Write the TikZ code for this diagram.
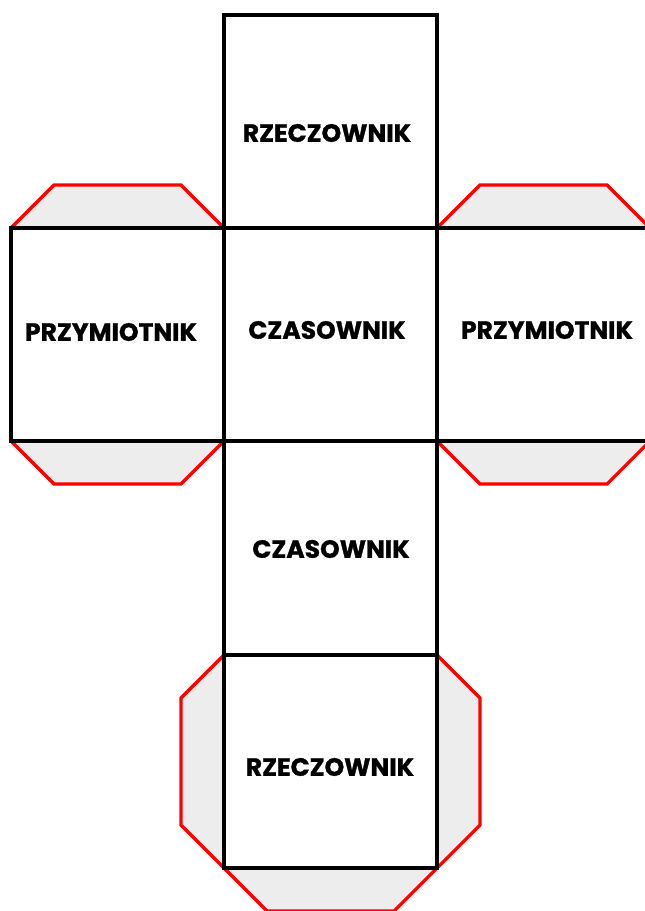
\documentclass[tikz,border=0pt]{standalone}
\usepackage{fontspec}
\newfontfamily\labelfont{Poppins}[UprightFont=* Bold,UprightFeatures={FakeBold=1.2}]
\begin{document}
\begin{tikzpicture}[x=1pt,y=-1pt,
  flap/.style={fill=flapgrey,draw=red,line width=3.2pt,line join=miter},
  face/.style={draw=black,line width=3.5pt,line join=miter},
  lbl/.style={font=\labelfont\fontsize{25}{25}\selectfont,text=black,inner sep=0pt}]
\definecolor{flapgrey}{RGB}{237,237,237}
\useasboundingbox (0,0) rectangle (645,911);
\clip (0,0) rectangle (645,911);
% flaps
\filldraw[flap] (11,228) -- (54,185) -- (181,185) -- (224,228);
\filldraw[flap] (11,441) -- (54,484) -- (181,484) -- (224,441);
\filldraw[flap] (437,228) -- (480,185) -- (607,185) -- (650,228);
\filldraw[flap] (437,441) -- (480,484) -- (607,484) -- (650,441);
\filldraw[flap] (224,655) -- (181,698) -- (181,825) -- (224,868);
\filldraw[flap] (437,655) -- (480,698) -- (480,825) -- (437,868);
\filldraw[flap] (224,868) -- (267,911) -- (394,911) -- (437,868);
% faces
\draw[face] (224,15) rectangle (437,228);
\draw[face] (11,228) rectangle (224,441);
\draw[face] (224,228) rectangle (437,441);
\draw[face] (437,228) rectangle (650,441);
\draw[face] (224,441) rectangle (437,655);
\draw[face] (224,655) rectangle (437,868);
% labels
\node[lbl] (t1) at (327,133) {RZECZOWNIK};
\node[lbl] (t2) at (111,332) {PRZYMIOTNIK};
\node[lbl] (t3) at (327,330) {CZASOWNIK};
\node[lbl] (t4) at (547,330) {PRZYMIOTNIK};
\node[lbl] (t5) at (331,549) {CZASOWNIK};
\node[lbl] (t6) at (330,767) {RZECZOWNIK};
\end{tikzpicture}
\end{document}
